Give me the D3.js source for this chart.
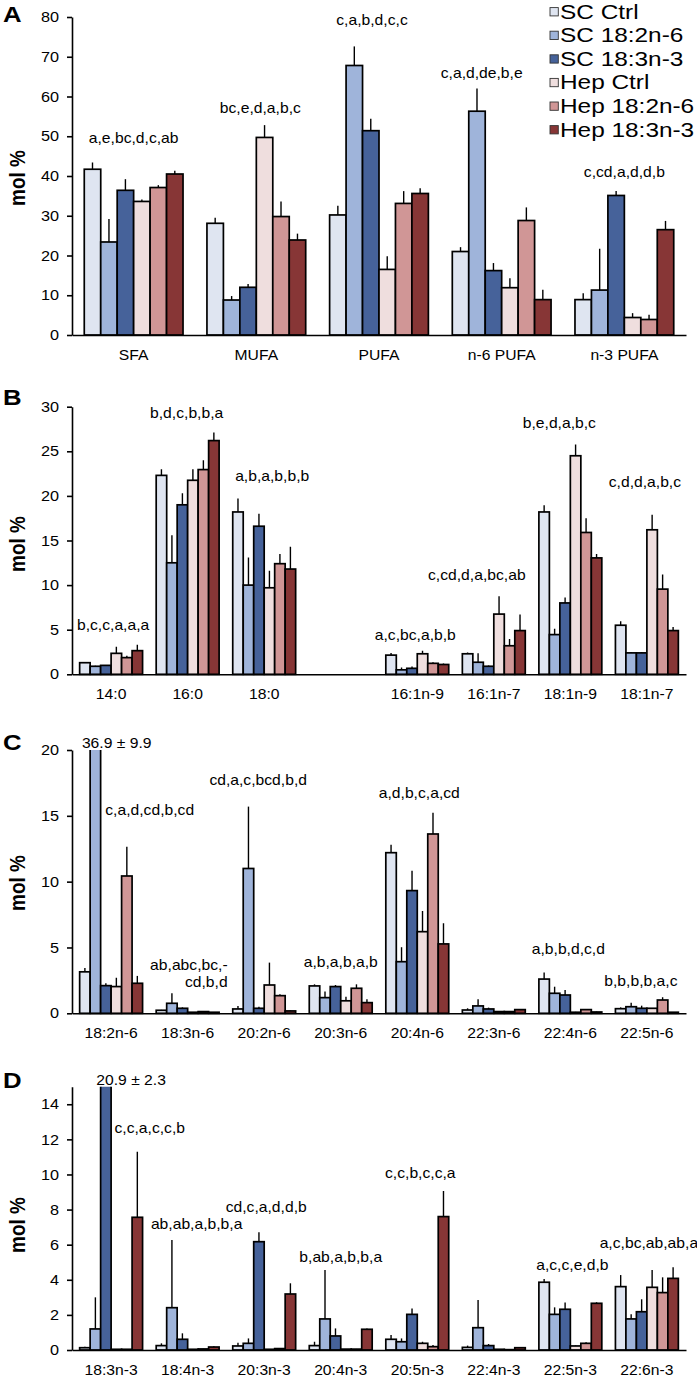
<!DOCTYPE html>
<html>
<head>
<meta charset="utf-8">
<script src="https://cdn.jsdelivr.net/npm/d3@7"></script>
<style>
  html, body { margin: 0; padding: 0; background: #fff; }
  svg { display: block; }
</style>
</head>
<body>
<div id="chart"></div>
<script>
// ---------------- DATA ----------------
const seriesNames = ["SC Ctrl", "SC 18:2n-6", "SC 18:3n-3", "Hep Ctrl", "Hep 18:2n-6", "Hep 18:3n-3"];
const seriesColors = ["#dfe5f1", "#9fb4da", "#46629a", "#efdede", "#d09696", "#873636"];

// Panel A
const aCats = ["SFA", "MUFA", "PUFA", "n-6 PUFA", "n-3 PUFA"];
const aMeans = [
  [41.7, 28.1, 30.2, 21.0, 8.9],
  [23.4, 8.8, 67.8, 56.3, 11.3],
  [36.4, 12.0, 51.4, 16.2, 35.1],
  [33.6, 49.7, 16.5, 11.9, 4.4],
  [37.1, 29.8, 33.1, 28.8, 3.9],
  [40.5, 23.9, 35.6, 8.9, 26.5]
];
const aErrs = [
  [1.7, 1.4, 2.3, 1.1, 1.6],
  [5.8, 1.0, 4.8, 5.7, 10.4],
  [2.8, 0.8, 3.0, 1.9, 1.1],
  [0.5, 3.1, 3.3, 2.4, 1.1],
  [0.6, 3.8, 3.1, 3.3, 1.2],
  [0.8, 1.6, 1.3, 2.5, 2.2]
];
const aTicks = [0, 10, 20, 30, 40, 50, 60, 70, 80];
const aNotes = ["a,e,bc,d,c,ab", "bc,e,d,a,b,c", "c,a,b,d,c,c", "c,a,d,de,b,e", "c,cd,a,d,d,b"];
const aNoteCat = [0, 1, 2, 3, 4];
const aNoteAt = [49.6, 57.0, 79.2, 65.8, 41.1];

// Panel B
const bCats = ["14:0", "16:0", "18:0", "", "16:1n-9", "16:1n-7", "18:1n-9", "18:1n-7"];
const bMeans = [
  [1.3, 22.3, 18.2, null, 2.15, 2.3, 18.2, 5.5],
  [0.9, 12.5, 10.0, null, 0.5, 1.35, 4.45, 2.4],
  [1.0, 19.0, 16.6, null, 0.67, 0.9, 8.0, 2.4],
  [2.35, 21.75, 9.7, null, 2.3, 6.75, 24.5, 16.2],
  [1.87, 22.95, 12.4, null, 1.23, 3.2, 15.9, 9.55],
  [2.65, 26.2, 11.8, null, 1.1, 4.9, 13.05, 4.9]
];
const bErrs = [
  [0.05, 0.7, 1.5, null, 0.25, 0.15, 0.75, 0.45],
  [0.05, 3.1, 3.1, null, 0.25, 1.0, 0.65, 0.1],
  [0.05, 1.3, 1.4, null, 0.2, 0.1, 0.6, 0.1],
  [0.75, 1.25, 1.9, null, 0.35, 2.0, 1.25, 1.7],
  [0.2, 1.05, 1.1, null, 0.12, 0.75, 1.6, 1.65],
  [0.65, 0.9, 2.5, null, 0.1, 1.8, 0.45, 0.4]
];
const bTicks = [0, 5, 10, 15, 20, 25, 30];
const bNotes = ["b,c,c,a,a,a", "b,d,c,b,b,a", "a,b,a,b,b,b", "a,c,bc,a,b,b", "c,cd,d,a,bc,ab", "b,e,d,a,b,c", "c,d,d,a,b,c"];
const bNoteCat = [0, 1, 2, 4, 5, 6, 7];
const bNoteAt = [5.5, 29.3, 22.2, 4.4, 11.1, 28.2, 21.6];

// Panel C
const cCats = ["18:2n-6", "18:3n-6", "20:2n-6", "20:3n-6", "20:4n-6", "22:3n-6", "22:4n-6", "22:5n-6"];
const cMeans = [
  [3.15, 0.23, 0.33, 2.08, 12.2, 0.25, 2.6, 0.35],
  [36.9, 0.76, 11.0, 1.19, 3.92, 0.56, 1.52, 0.5],
  [2.1, 0.38, 0.38, 2.03, 9.32, 0.33, 1.39, 0.38],
  [2.03, 0.08, 2.15, 0.95, 6.2, 0.13, 0.08, 0.38],
  [10.43, 0.13, 1.34, 1.9, 13.62, 0.13, 0.28, 1.01],
  [2.28, 0.08, 0.18, 0.81, 5.27, 0.28, 0.1, 0.08]
];
const cErrs = [
  [0.3, 0.03, 0.22, 0.12, 0.6, 0.13, 0.5, 0.1],
  [9.9, 0.76, 4.7, 0.46, 1.1, 0.5, 0.5, 0.3],
  [0.18, 0.07, 0.12, 0.12, 1.5, 0.1, 0.38, 0.2],
  [0.67, 0.02, 1.7, 0.3, 1.57, 0.03, 0.03, 0.03],
  [2.23, 0.02, 0.1, 0.3, 1.62, 0.03, 0.05, 0.21],
  [0.56, 0.02, 0.03, 0.25, 1.57, 0.05, 0.03, 0.02]
];
const cTicks = [0, 5, 10, 15, 20];
const cNotes = ["36.9 \u00b1 9.9", "c,a,d,cd,b,cd", "ab,abc,bc,-", "cd,b,d", "cd,a,c,bcd,b,d", "a,b,a,b,a,b", "a,d,b,c,a,cd", "a,b,b,d,c,d", "b,b,b,b,a,c"];
const cNoteCat = [0, 0, 1, 1, 2, 3, 4, 6, 7];
const cNoteAt = [20.55, 15.45, 3.67, 2.38, 17.7, 3.9, 16.7, 4.9, 2.45];

// Panel D
const dCats = ["18:3n-3", "18:4n-3", "20:3n-3", "20:4n-3", "20:5n-3", "22:4n-3", "22:5n-3", "22:6n-3"];
const dMeans = [
  [0.13, 0.25, 0.23, 0.25, 0.61, 0.15, 3.86, 3.61],
  [1.2, 2.41, 0.38, 1.77, 0.47, 1.27, 2.03, 1.77],
  [20.9, 0.61, 6.17, 0.8, 2.03, 0.25, 2.32, 2.18],
  [0.04, 0.04, 0.04, 0.05, 0.38, 0.04, 0.23, 3.57],
  [0.04, 0.06, 0.08, 0.05, 0.19, 0.02, 0.38, 3.27],
  [7.56, 0.17, 3.19, 1.18, 7.6, 0.13, 2.66, 4.08]
];
const dErrs = [
  [0.06, 0.13, 0.19, 0.22, 0.24, 0.1, 0.19, 0.66],
  [1.8, 3.86, 0.28, 2.79, 0.19, 1.58, 0.4, 0.26],
  [2.3, 0.34, 0.54, 0.43, 0.34, 0.09, 0.38, 0.71],
  [0.01, 0.01, 0.01, 0.01, 0.09, 0.01, 0.03, 0.99],
  [0.01, 0.01, 0.01, 0.01, 0.09, 0.01, 0.06, 0.87],
  [3.74, 0.04, 0.61, 0.05, 1.46, 0.02, 0.06, 0.63]
];
const dTicks = [0, 2, 4, 6, 8, 10, 12, 14];
const dNotes = ["20.9 \u00b1 2.3", "c,c,a,c,c,b", "ab,ab,a,b,b,a", "cd,c,a,d,d,b", "b,ab,a,b,b,a", "c,c,b,c,c,a", "a,c,c,e,d,b", "a,c,bc,ab,ab,a"];
const dNoteCat = [0, 0, 1, 2, 3, 4, 6, 7];
const dNoteAt = [15.4, 12.65, 7.18, 8.15, 5.3, 10.1, 4.84, 6.1];

// ---------------- LAYOUT ----------------
const W = 697, H = 1378;
const SX = 1.12; // horizontal text stretch of the original figure
const FONT = "'Liberation Sans', Arial, Helvetica, sans-serif";
const X0 = 72, X1 = 686;

const panels = [
  { letter: "A", cats: aCats, means: aMeans, errs: aErrs, yMax: 80, ticks: aTicks, top: 17, bottom: 335,
    pi: 0.195, po: 0.1, letterY: 22, molY: 178,
    notes: aNotes, noteCat: aNoteCat, noteAt: aNoteAt, noteDx: [0, 4, -7, -20, 0], noteAnchor: [] },
  { letter: "B", cats: bCats, means: bMeans, errs: bErrs, yMax: 30, ticks: bTicks, top: 406.7, bottom: 674.3,
    pi: 0.178, po: 0.1, letterY: 405, molY: 544,
    notes: bNotes, noteCat: bNoteCat, noteAt: bNoteAt, noteDx: [2, -1, 8, -2, -17, -11, -2], noteAnchor: [] },
  { letter: "C", cats: cCats, means: cMeans, errs: cErrs, yMax: 20, ticks: cTicks, top: 750, bottom: 1013.3,
    pi: 0.178, po: 0.1, letterY: 750, molY: 883,
    notes: cNotes, noteCat: cNoteCat, noteAt: cNoteAt, noteDx: [5.6, 38.6, 40, 40, -6, 0, 2, -2, -6],
    noteAnchor: ["middle", "middle", "end", "end"] },
  { letter: "D", cats: dCats, means: dMeans, errs: dErrs, yMax: 15, ticks: dTicks, top: 1086.7, bottom: 1350,
    pi: 0.178, po: 0.1, letterY: 1088, molY: 1225,
    notes: dNotes, noteCat: dNoteCat, noteAt: dNoteAt, noteDx: [20, 38.6, 9, 2, 0, 3, 2, 2], noteAnchor: [] }
];

const svg = d3.select("#chart").append("svg")
  .attr("width", W).attr("height", H)
  .attr("font-family", FONT);

function stretchedText(sel, x, y, str, size, anchor, weight, sx) {
  return sel.append("text")
    .attr("transform", `translate(${x},${y}) scale(${sx || SX},1)`)
    .attr("text-anchor", anchor || "middle")
    .attr("font-size", size)
    .attr("font-weight", weight || "normal")
    .attr("fill", "#000")
    .text(str);
}

panels.forEach((p, pIdx) => {
  const g = svg.append("g");
  const x = d3.scaleBand().domain(d3.range(p.cats.length)).range([X0, X1])
    .paddingInner(p.pi).paddingOuter(p.po);
  const xs = d3.scaleBand().domain(d3.range(seriesNames.length)).range([0, x.bandwidth()]);
  const y = d3.scaleLinear().domain([0, p.yMax]).range([p.bottom, p.top]);

  const clipId = "clip" + pIdx;
  svg.append("clipPath").attr("id", clipId).append("rect")
    .attr("x", 0).attr("y", p.top).attr("width", W).attr("height", p.bottom - p.top + 5);

  const barData = [];
  p.means.forEach((row, s) => row.forEach((v, c) => {
    if (v !== null && v !== undefined) barData.push({ s, c, v, e: p.errs[s][c] });
  }));

  const bars = g.append("g").attr("clip-path", `url(#${clipId})`);
  bars.selectAll("line.err").data(barData).join("line")
    .attr("class", "err")
    .attr("x1", d => x(d.c) + xs(d.s) + xs.bandwidth() / 2)
    .attr("x2", d => x(d.c) + xs(d.s) + xs.bandwidth() / 2)
    .attr("y1", d => y(d.v))
    .attr("y2", d => y(d.v + d.e))
    .attr("stroke", "#000").attr("stroke-width", 1.4);
  bars.selectAll("rect").data(barData).join("rect")
    .attr("x", d => x(d.c) + xs(d.s))
    .attr("y", d => y(d.v))
    .attr("width", xs.bandwidth())
    .attr("height", d => p.bottom - y(d.v))
    .attr("fill", d => seriesColors[d.s])
    .attr("stroke", "#000").attr("stroke-width", 1.7);

  // y axis
  const ya = g.append("g").attr("transform", `translate(${X0},0)`)
    .call(d3.axisLeft(y).tickValues(p.ticks).tickSize(5).tickSizeOuter(0).tickPadding(6.5));
  ya.select(".domain").attr("stroke", "#000").attr("stroke-width", 1.6);
  ya.selectAll(".tick line").attr("stroke", "#000").attr("stroke-width", 1.6);
  ya.selectAll(".tick text").attr("font-size", 14.5).attr("font-family", FONT).attr("fill", "#000")
    .attr("transform", `scale(${SX},1)`);

  // x axis
  const xa = g.append("g").attr("transform", `translate(0,${p.bottom})`)
    .call(d3.axisBottom(x).tickSize(0).tickSizeOuter(0).tickFormat(i => p.cats[i]));
  xa.select(".domain").attr("stroke", "#000").attr("stroke-width", 1.6);
  xa.selectAll(".tick text").attr("font-size", 14).attr("font-family", FONT).attr("fill", "#000")
    .attr("y", 25).attr("dy", 0).attr("transform", `scale(${SX},1)`);

  // panel letter
  stretchedText(g, 3, p.letterY, p.letter, 23, "start", "bold");

  // y label
  g.append("text")
    .attr("transform", `translate(17.5,${p.molY}) scale(${SX},1) rotate(-90)`)
    .attr("text-anchor", "middle").attr("dominant-baseline", "central")
    .attr("font-size", 19).attr("font-weight", "bold").attr("fill", "#000")
    .text("mol %");

  // significance annotations
  p.notes.forEach((t, i) => {
    const c = p.noteCat[i];
    const anchor = p.noteAnchor[i] || "middle";
    const cx = x(c) + x.bandwidth() / 2 + p.noteDx[i];
    stretchedText(g, cx, y(p.noteAt[i]) + 5, t, 14, anchor);
  });

  // legend (panel A only)
  if (pIdx === 0) {
    const lg = g.append("g");
    seriesNames.forEach((n, i) => {
      lg.append("rect")
        .attr("x", 550).attr("y", 7.6 + i * 23.6)
        .attr("width", 8.3).attr("height", 8.3)
        .attr("fill", seriesColors[i]).attr("stroke", "#333").attr("stroke-width", 0.9);
      stretchedText(lg, 560, 18.5 + i * 23.6, n, 20.5, "start", "normal", 1.19);
    });
  }
});
</script>
</body>
</html>
